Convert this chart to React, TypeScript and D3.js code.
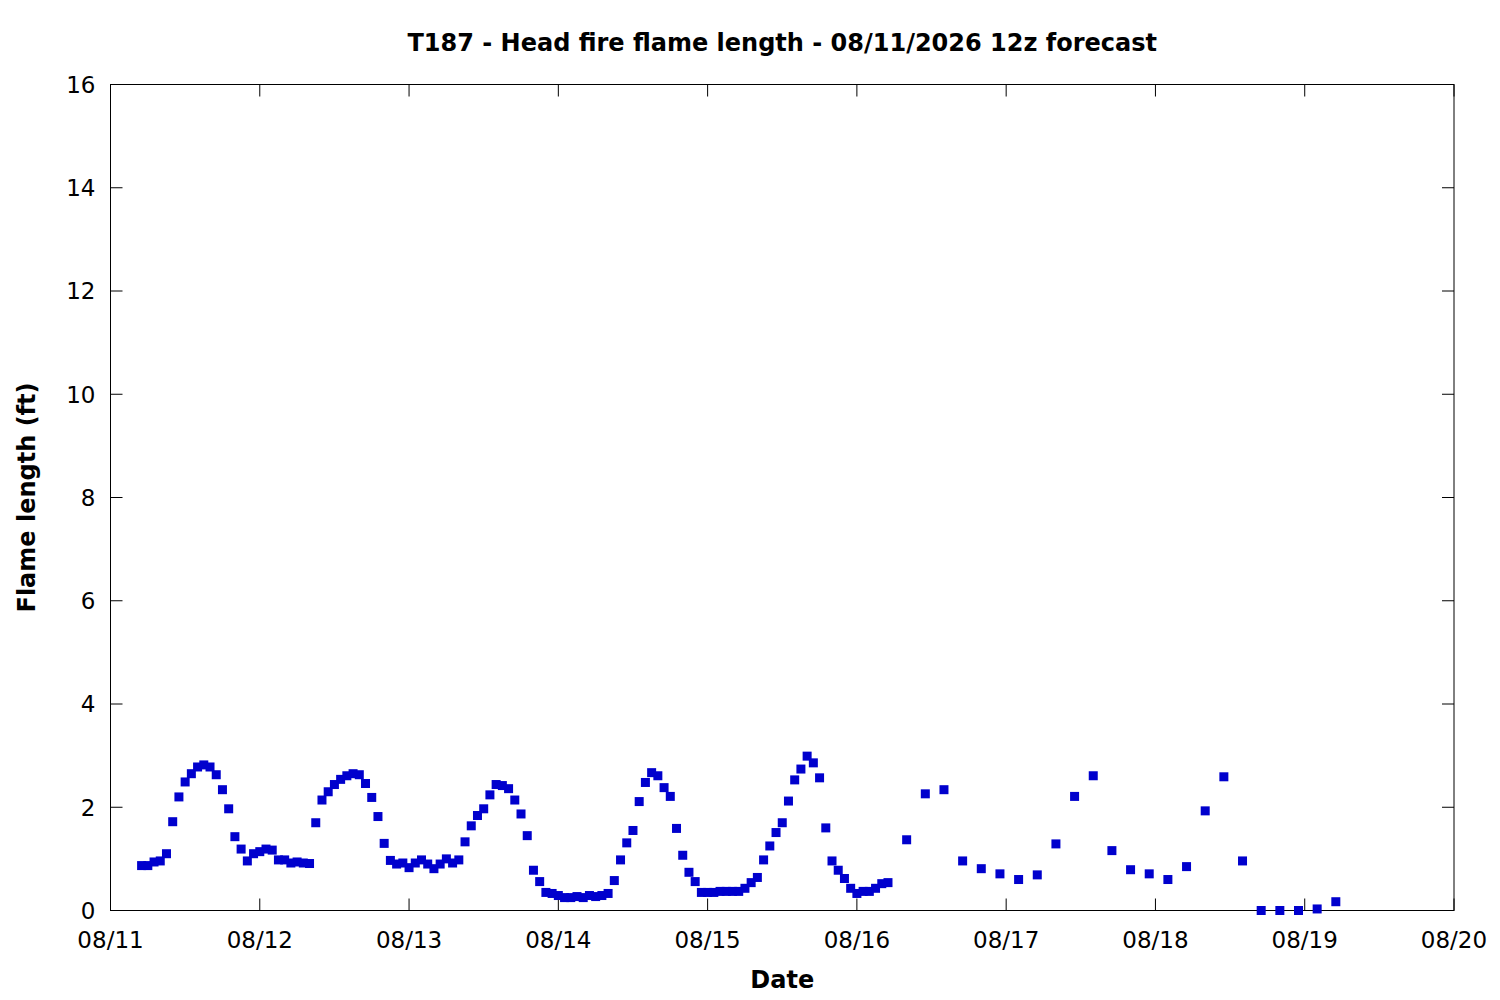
import { useRef, useEffect } from "react"
import * as d3 from "d3"

// hourly forecast, starting 08/11 05:00
const hourlyStart = Date.UTC(2026, 7, 11, 5)
const hourlyValues = [
  // 08/11 05-23
  0.87, 0.87, 0.94, 0.96, 1.1, 1.72, 2.2, 2.49, 2.65, 2.78, 2.82, 2.78, 2.63, 2.34, 1.97, 1.43, 1.19, 0.96, 1.1,
  // 08/12
  1.14, 1.19, 1.17, 0.98, 0.98, 0.92, 0.94, 0.92, 0.91, 1.7, 2.14, 2.3, 2.44, 2.54, 2.61, 2.65, 2.63, 2.46, 2.19,
  1.82, 1.3, 0.97, 0.9, 0.92,
  // 08/13
  0.83, 0.92, 0.98, 0.9, 0.81, 0.9, 1.0, 0.92, 0.98, 1.33, 1.64, 1.84, 1.97, 2.24, 2.44, 2.42, 2.36, 2.14, 1.87,
  1.45, 0.78, 0.56, 0.35, 0.33,
  // 08/14
  0.29, 0.25, 0.25, 0.27, 0.25, 0.29, 0.27, 0.29, 0.33, 0.58, 0.98, 1.31, 1.55, 2.11, 2.48, 2.67, 2.61, 2.38, 2.21,
  1.59, 1.07, 0.74, 0.56, 0.35,
  // 08/15
  0.35, 0.35, 0.37, 0.37, 0.37, 0.37, 0.43, 0.54, 0.64, 0.98, 1.25, 1.51, 1.7, 2.12, 2.53, 2.74, 2.99, 2.86, 2.57,
  1.6, 0.96, 0.78, 0.62, 0.43,
  // 08/16 00-05
  0.33, 0.37, 0.37, 0.43, 0.52, 0.54,
]

// 3-hourly forecast, starting 08/16 08:00
const threeHourlyStart = Date.UTC(2026, 7, 16, 8)
const threeHourlyValues = [
  1.37, 2.26, 2.34, 0.96, 0.81, 0.71, 0.6, 0.69, 1.29, 2.21, 2.61, 1.16, 0.79, 0.71, 0.6, 0.85, 1.93, 2.59, 0.96, 0,
  0, 0, 0.03, 0.17,
]

const yTicks = [0, 2, 4, 6, 8, 10, 12, 14, 16]
const xStart = Date.UTC(2026, 7, 11)
const xEnd = Date.UTC(2026, 7, 20)

const title = "T187 - Head fire flame length - 08/11/2026 12z forecast"
const HOUR = 3600 * 1000

export default function App() {
  const svgRef = useRef<SVGSVGElement>(null)

  useEffect(() => {
    if (!svgRef.current) return
    d3.select(svgRef.current).selectAll("*").remove()

    const W = 1500
    const H = 1000
    const margin = { top: 84.5, right: 46, bottom: 89.5, left: 110.5 }
    const width = W - margin.left - margin.right
    const height = H - margin.top - margin.bottom
    const font = "'DejaVu Sans', sans-serif"

    const data = [
      ...hourlyValues.map((v, i) => ({ t: new Date(hourlyStart + i * HOUR), v })),
      ...threeHourlyValues.map((v, i) => ({ t: new Date(threeHourlyStart + i * 3 * HOUR), v })),
    ]

    const x = d3.scaleUtc().domain([new Date(xStart), new Date(xEnd)]).range([0, width])
    const y = d3.scaleLinear().domain([0, 16]).range([height, 0])
    const days = d3.utcDay.range(new Date(xStart), new Date(xEnd + 1))

    const svg = d3.select(svgRef.current)
    svg.append("rect").attr("width", W).attr("height", H).attr("fill", "white")

    const g = svg.append("g").attr("transform", `translate(${margin.left},${margin.top})`)

    // frame
    g.append("rect")
      .attr("width", width)
      .attr("height", height)
      .attr("fill", "none")
      .attr("stroke", "black")
      .attr("stroke-width", 1)

    // y ticks, mirrored on the right
    const tickLen = 12
    yTicks.forEach((t) => {
      const yy = y(t)
      g.append("line").attr("x1", 0).attr("x2", tickLen).attr("y1", yy).attr("y2", yy).attr("stroke", "black")
      g.append("line")
        .attr("x1", width - tickLen)
        .attr("x2", width)
        .attr("y1", yy)
        .attr("y2", yy)
        .attr("stroke", "black")
      g.append("text")
        .attr("x", -15)
        .attr("y", y(t))
        .attr("dy", "0.36em")
        .attr("text-anchor", "end")
        .style("font-family", font)
        .style("font-size", "23px")
        .text(t)
    })

    // x ticks, mirrored on the top
    const fmt = d3.utcFormat("%m/%d")
    days.forEach((d) => {
      const xx = x(d)
      g.append("line")
        .attr("x1", xx)
        .attr("x2", xx)
        .attr("y1", height)
        .attr("y2", height - tickLen)
        .attr("stroke", "black")
      g.append("line").attr("x1", xx).attr("x2", xx).attr("y1", 0).attr("y2", tickLen).attr("stroke", "black")
      g.append("text")
        .attr("x", xx)
        .attr("y", height + 37)
        .attr("text-anchor", "middle")
        .style("font-family", font)
        .style("font-size", "23px")
        .text(fmt(d))
    })

    // points
    const size = 9
    g.selectAll(".pt")
      .data(data)
      .enter()
      .append("rect")
      .attr("class", "pt")
      .attr("x", (d) => x(d.t) - size / 2)
      .attr("y", (d) => y(d.v) - size / 2)
      .attr("width", size)
      .attr("height", size)
      .attr("fill", "#0000cd")

    // title and axis labels
    svg
      .append("text")
      .attr("x", margin.left + width / 2)
      .attr("y", 51)
      .attr("text-anchor", "middle")
      .style("font-family", font)
      .style("font-size", "24px")
      .style("font-weight", "bold")
      .text(title)

    svg
      .append("text")
      .attr("x", margin.left + width / 2)
      .attr("y", 988)
      .attr("text-anchor", "middle")
      .style("font-family", font)
      .style("font-size", "24px")
      .style("font-weight", "bold")
      .text("Date")

    svg
      .append("text")
      .attr("transform", `translate(35,${margin.top + height / 2}) rotate(-90)`)
      .attr("text-anchor", "middle")
      .style("font-family", font)
      .style("font-size", "24px")
      .style("font-weight", "bold")
      .text("Flame length (ft)")
  }, [])

  return (
    <svg
      ref={svgRef}
      width={1500}
      height={1000}
      style={{ position: "absolute", left: 0, top: 0, display: "block" }}
    />
  )
}
